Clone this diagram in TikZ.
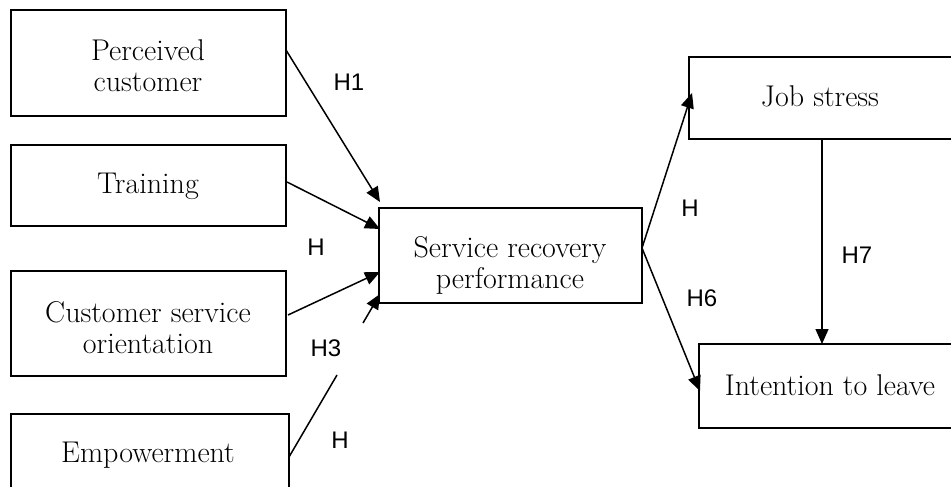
\documentclass[tikz,border=0pt]{standalone}
\usepackage{fontspec}
\newfontfamily\labfont{Liberation Sans}
\usetikzlibrary{arrows.meta,calc}
\tikzset{
  boxx/.style={draw, line width=1.1pt},
  boxtext/.style={font=\fontsize{30}{31}\selectfont, align=center, inner sep=0pt},
  hlab/.style={font=\labfont\fontsize{24}{26}\selectfont, inner sep=0pt},
  conn/.style={line width=1.5pt},
  arr/.style={conn, -{Triangle[length=15pt,width=13pt]}}
}
\begin{document}
\begin{tikzpicture}[x=1pt,y=-1pt]
\clip (0,0) rectangle (951,487);
\fill[white] (0,0) rectangle (951,487);
% boxes
\draw[boxx] (11,10) rectangle (286,116);
\coordinate (b1) at (286,50);
\draw[boxx] (11,145) rectangle (286,226);
\coordinate (b2) at (287,182);
\draw[boxx] (11,271) rectangle (286,376);
\coordinate (b3) at (288,315);
\draw[boxx] (11,414) rectangle (289,500);
\coordinate (b4) at (289,457);
\draw[boxx] (379,208) rectangle (642,303);
\coordinate (cr) at (642,248);
\draw[boxx] (689,57) rectangle (960,139);
\coordinate (jb) at (822,139);
\draw[boxx] (699,344) rectangle (960,428);
\coordinate (it) at (822,344);
% texts
\node[boxtext] (t1) at (148,66) {Perceived\\customer};
\node[boxtext] (t2) at (148,186) {Training};
\node[boxtext] (t3) at (148,328) {Customer service\\orientation};
\node[boxtext] (t4) at (148,455) {Empowerment};
\node[boxtext] (t5) at (510,265) {Service recovery\\performance};
\node[boxtext] (t6) at (820,96) {Job stress};
\node[boxtext] (t7) at (830,385) {Intention to leave};
% arrow ends
\coordinate (e1) at (380,202);
\coordinate (e2) at (380,229);
\coordinate (e3) at (380,272);
\coordinate (e4) at (380,294);
\coordinate (ej) at (692,93);
\coordinate (ei) at (700,391);
\draw[arr] (b1) -- (e1);
\draw[arr] (b2) -- (e2);
\draw[arr] (b3) -- (e3);
\coordinate (g1) at (337,375);
\coordinate (g2) at (363,323);
\draw[conn] (b4) -- (g1);
\draw[arr] (g2) -- (e4);
\draw[arr] (cr) -- (ej);
\draw[arr] (cr) -- (ei);
\draw[arr] (jb) -- (it);
% labels
\node[hlab] (h1) at (349,82) {H1};
\node[hlab] (h2) at (316,247) {H};
\node[hlab] (h3) at (326,348) {H3};
\node[hlab] (h4) at (340,440) {H};
\node[hlab] (h5) at (690,208) {H};
\node[hlab] (h6) at (702,298) {H6};
\node[hlab] (h7) at (857,255) {H7};
\end{tikzpicture}
\end{document}
